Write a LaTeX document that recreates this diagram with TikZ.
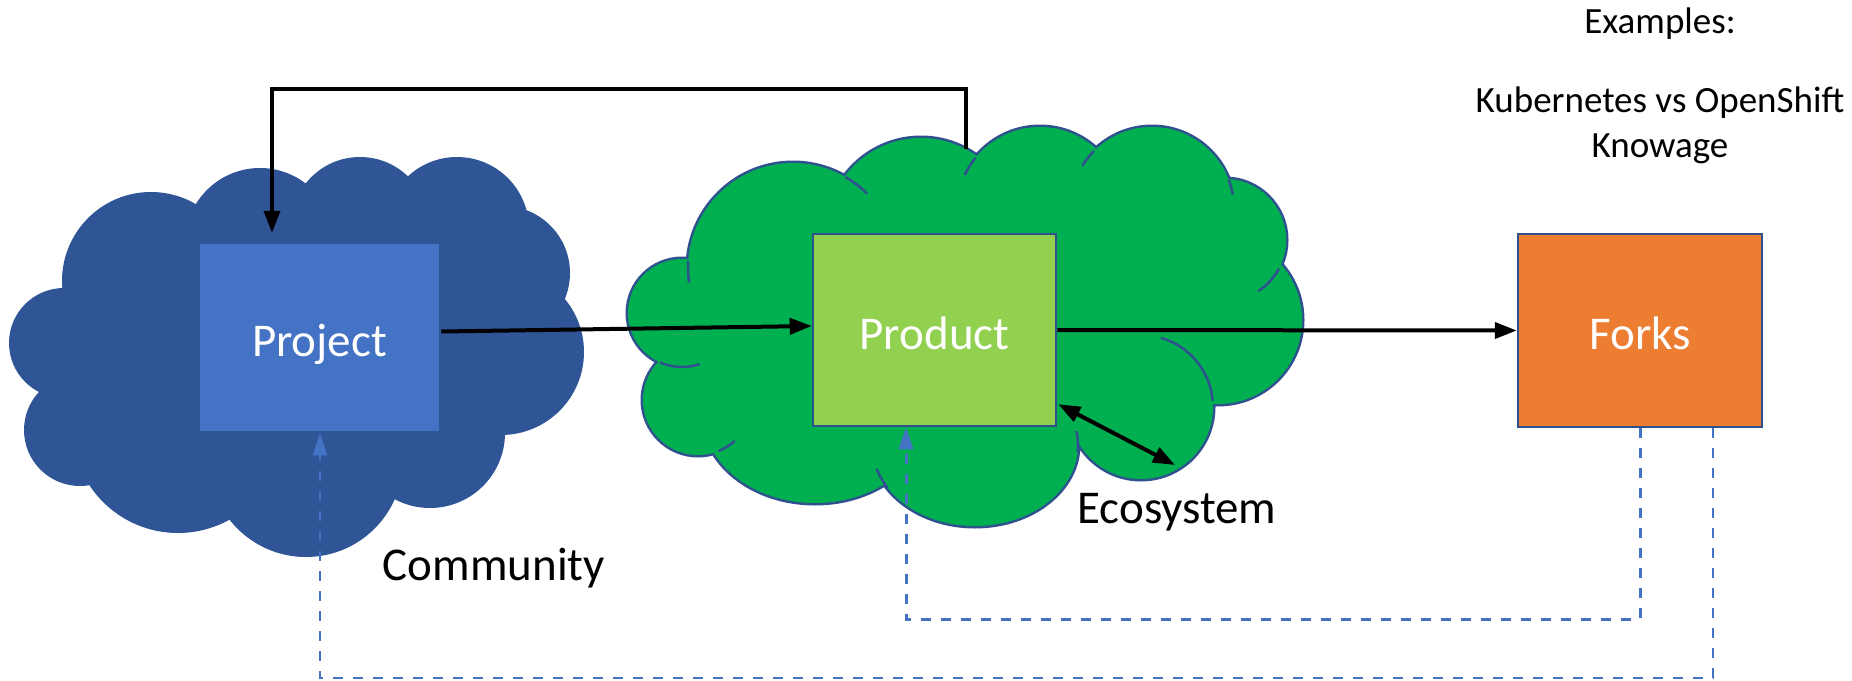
\documentclass[tikz,border=0pt]{standalone}
\usepackage{fontspec}
\setmainfont{Carlito}
\usetikzlibrary{arrows.meta,calc}
\definecolor{cloudblue}{HTML}{2F5597}
\definecolor{boxblue}{HTML}{4472C4}
\definecolor{cloudgreen}{HTML}{00B050}
\definecolor{boxgreen}{HTML}{92D050}
\definecolor{boxorange}{HTML}{ED7D31}
\definecolor{edgeblue}{HTML}{2F528F}
\definecolor{linkblue}{HTML}{4472C4}
\tikzset{
  bigtext/.style={font=\fontsize{47}{56}\selectfont, inner sep=0pt},
  smalltext/.style={font=\fontsize{37}{45}\selectfont, inner sep=0pt},
  block/.style={rectangle, inner sep=0pt, text=white,
    font=\fontsize{47}{56}\selectfont, text height=46pt, text depth=8pt,
    line width=2.5pt, draw=edgeblue},
  flow/.style={line width=4pt, -{Triangle[length=22pt,width=16pt]}},
  twoway/.style={line width=4pt,
    {Triangle[length=22pt,width=16pt]}-{Triangle[length=22pt,width=16pt]}},
  feedback/.style={linkblue, line width=3pt, dash pattern=on 10pt off 10pt,
    -{Triangle[length=22pt,width=14pt]}},
  feedbackthin/.style={linkblue, line width=1.6pt, dash pattern=on 10pt off 10pt,
    -{Triangle[length=22pt,width=14pt]}},
  stub/.style={edgeblue, line width=2.5pt},
  % bumps of the community cloud
  bluebumps/.style={insert path={
    (151,281) circle[radius=89]
    (260,243) circle[radius=75]
    (360,226) circle[radius=69]
    (457,229) circle[radius=72]
    (503,273) circle[radius=67]
    (501,352) circle[radius=83]
    (430,433) circle[radius=75]
    (306,460) circle[radius=97]
    (178,427) circle[radius=106]
    (80,430) circle[radius=56]
    (64,343) circle[radius=55]}},
  % bumps of the ecosystem cloud
  greenbumps/.style={insert path={
    (682,313) circle[radius=54]
    (793,268) circle[radius=105]
    (921,233) circle[radius=95]
    (1040,210) circle[radius=83]
    (1152,209) circle[radius=82]
    (1225,240) circle[radius=61]
    (1218,320) circle[radius=84]
    (1141,407) circle[radius=72]
    (975,445) ellipse[x radius=103, y radius=81]
    (815,415) ellipse[x radius=112, y radius=88]
    (698,400) circle[radius=55]}},
}
\begin{document}
\begin{tikzpicture}[x=1pt,y=-1pt]
\useasboundingbox[fill=white] (0,0) rectangle (1852,680);

% community cloud
\fill[cloudblue, bluebumps];
\fill[cloudblue] (151,281) -- (260,243) -- (360,226) -- (457,229) -- (503,273)
  -- (501,352) -- (430,433) -- (306,460) -- (178,427) -- (80,430) -- (64,343) -- cycle;

% ecosystem cloud: outline, fill, then the inner arcs
\draw[edgeblue, line width=5pt, greenbumps];
\fill[cloudgreen, greenbumps];
\fill[cloudgreen] (682,313) -- (793,268) -- (921,233) -- (1040,210) -- (1152,209)
  -- (1225,240) -- (1218,320) -- (1141,407) -- (975,445) -- (815,415) -- (698,400) -- cycle;
\draw[stub] (682,313) ++(114:54) arc[start angle=114, end angle=71, radius=54];
\draw[stub] (793,268) ++(184:105) arc[start angle=184, end angle=172, radius=105];
\draw[stub] (793,268) ++(-60:105) arc[start angle=-60, end angle=-45, radius=105];
\draw[stub] (1040,210) ++(219:83) arc[start angle=219, end angle=205, radius=83];
\draw[stub] (1152,209) ++(225:82) arc[start angle=225, end angle=212, radius=82];
\draw[stub] (1152,209) ++(-21:82) arc[start angle=-21, end angle=-10, radius=82];
\draw[stub] (1225,240) ++(28:61) arc[start angle=28, end angle=57, radius=61];
\draw[stub] (1141,407) ++(-74:72) arc[start angle=-74, end angle=-5, radius=72];
\draw[stub] (975,445) ++(101.4,-14.1) arc[start angle=-10, end angle=5, x radius=103, y radius=81];
\draw[stub] (975,445) ++(-87.3,42.9) arc[start angle=148, end angle=163, x radius=103, y radius=81];
\draw[stub] (698,400) ++(68:55) arc[start angle=68, end angle=48, radius=55];

% blocks
\node[block, fill=boxblue, draw=cloudblue, minimum width=241pt, minimum height=189pt]
  (proj) at (319.5,337.5) {Project};
\node[block, fill=boxgreen, minimum width=243pt, minimum height=192pt]
  (prod) at (934.5,330) {Product};
\node[block, fill=boxorange, minimum width=244pt, minimum height=193pt]
  (forks) at (1640,330.5) {Forks};

% routing points
\coordinate (t0) at (966,149);
\coordinate (t1) at (966,89);
\coordinate (t2) at (272,89);
\coordinate (eco) at (1175,465);
\coordinate (c1) at (1640,619);
\coordinate (c2) at (906,619);
\coordinate (c3) at (1713,678);
\coordinate (c4) at (320,678);

% connectors
\draw[flow] ($(proj.east)+(0,-6)$) -- ($(prod.west)+(0,-4)$);
\draw[flow] (prod.east) -- (forks.west);
\draw[flow, shorten >=9pt] (t0) -- (t1) -- (t2) -- (proj.north -| t2);
\draw[twoway] ($(prod.south east)+(1,-23)$) -- (eco);
\draw[feedback] (forks.south -| c1) -- (c1) -- (c2) -- (prod.south -| c2);
\draw[feedbackthin] (forks.south -| c3) -- (c3) -- (c4) -- (proj.south -| c4);

% labels
\node[bigtext, anchor=base] (commlabel) at (494,580) {Community};
\node[bigtext, anchor=base] (ecolabel) at (1177,523) {Ecosystem};
\node[smalltext, anchor=base] (exlabel) at (1660,33) {Examples:};
\node[smalltext, anchor=base] (k8slabel) at (1660,112) {Kubernetes vs OpenShift};
\node[smalltext, anchor=base] (knlabel) at (1660,157) {Knowage};
\end{tikzpicture}
\end{document}
